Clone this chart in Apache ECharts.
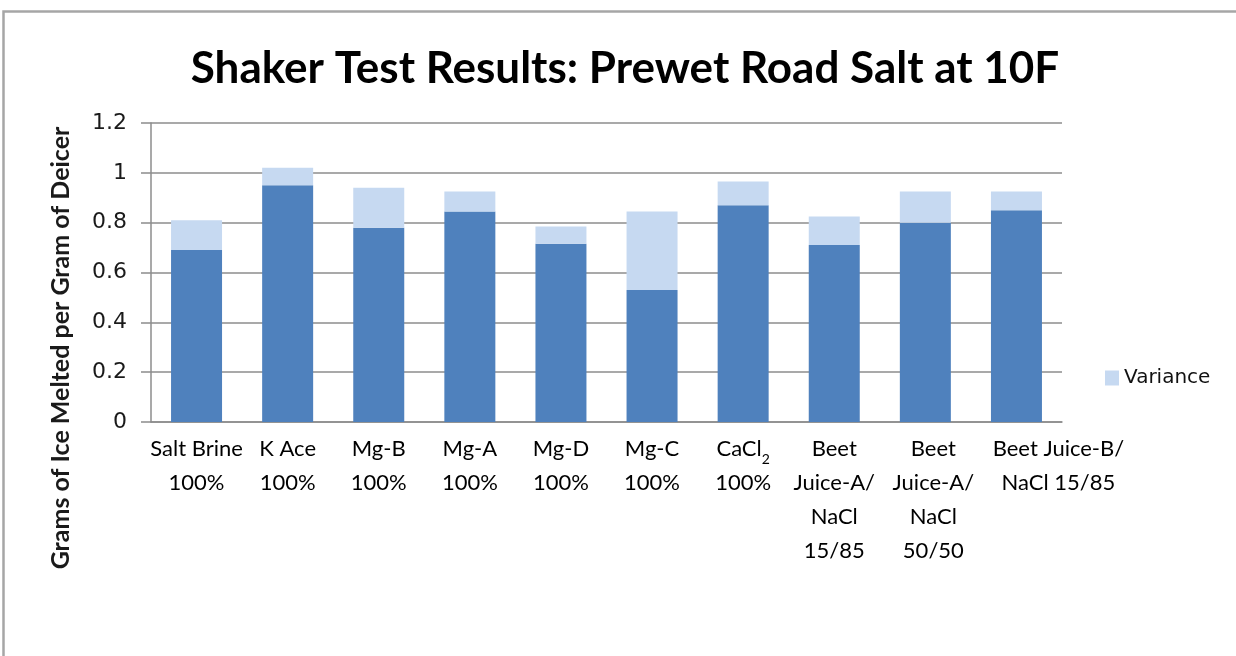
<!DOCTYPE html>
<html>
<head>
<meta charset="utf-8">
<title>Shaker Test Results</title>
<script src="https://cdn.jsdelivr.net/npm/echarts@6/dist/echarts.min.js"></script>
<style>
  html, body { margin: 0; padding: 0; background: #ffffff; }
  #chart { width: 1236px; height: 656px; }
</style>
</head>
<body>
<div id="chart"></div>
<script>
// Deicer products tested (x-axis categories, wrapped as shown under each bar)
const categories = [
  'Salt Brine\n100%',
  'K Ace\n100%',
  'Mg-B\n100%',
  'Mg-A\n100%',
  'Mg-D\n100%',
  'Mg-C\n100%',
  'CaCl₂\n100%',
  'Beet\nJuice-A/\nNaCl\n15/85',
  'Beet\nJuice-A/\nNaCl\n50/50',
  'Beet Juice-B/\nNaCl 15/85'
];

// Grams of ice melted per gram of deicer (lower, dark segment)
const meltedValues = [0.69, 0.95, 0.78, 0.845, 0.715, 0.53, 0.87, 0.71, 0.80, 0.85];

// Variance stacked on top (light segment)
const varianceValues = [0.12, 0.07, 0.16, 0.08, 0.07, 0.315, 0.095, 0.115, 0.125, 0.075];

// Value-axis range and step
const yMin = 0;
const yMax = 1.2;
const yStep = 0.2;

// Horizontal nudge (px) for wide wrapped labels so neighbours don't collide
const labelNudge = { 8: 16, 9: 84 };

const chart = echarts.init(document.getElementById('chart'), null, { renderer: 'canvas' });

const gridColor = '#8c8c8c';
const bodyFont = 'Lato, "Noto Sans", sans-serif';

const categoryData = categories.map(function (name, i) {
  if (labelNudge[i]) {
    return { value: name, textStyle: { padding: [0, 0, 0, labelNudge[i]] } };
  }
  return name;
});

chart.setOption({
  backgroundColor: '#ffffff',
  animation: false,
  title: {
    text: 'Shaker Test Results: Prewet Road Salt at 10F',
    left: 620,
    top: 42,
    textAlign: 'center',
    textStyle: {
      fontFamily: bodyFont,
      fontWeight: 'bold',
      fontSize: 44,
      color: '#000000'
    }
  },
  legend: {
    data: ['Variance'],
    left: 1105,
    top: 368,
    padding: 0,
    itemWidth: 14,
    itemHeight: 15,
    icon: 'rect',
    textStyle: {
      fontFamily: '"DejaVu Sans", sans-serif',
      fontSize: 20,
      color: '#111111'
    }
  },
  grid: {
    left: 151,
    right: 174,
    top: 123,
    bottom: 234,
    containLabel: false
  },
  xAxis: {
    type: 'category',
    data: categoryData,
    axisLine: { show: true, lineStyle: { color: gridColor, width: 1.5 } },
    axisTick: { show: false },
    axisLabel: {
      interval: 0,
      margin: 10,
      fontFamily: bodyFont,
      fontSize: 22,
      lineHeight: 34,
      color: '#000000',
      formatter: function (v) { return v.replace('₂', '{sub|2}'); },
      rich: {
        sub: {
          fontFamily: bodyFont,
          fontSize: 14,
          lineHeight: 27,
          verticalAlign: 'bottom',
          color: '#000000'
        }
      }
    }
  },
  yAxis: {
    type: 'value',
    min: yMin,
    max: yMax,
    interval: yStep,
    axisLine: { show: true, lineStyle: { color: gridColor, width: 1.5 } },
    axisTick: { show: true, length: 10, lineStyle: { color: gridColor, width: 1.5 } },
    splitLine: { show: true, lineStyle: { color: gridColor, width: 1.5 } },
    axisLabel: {
      margin: 24,
      fontFamily: '"DejaVu Sans", sans-serif',
      fontSize: 22,
      color: '#1a1a1a',
      formatter: function (v) { return String(Math.round(v * 10) / 10); }
    }
  },
  series: [
    {
      name: 'Melted',
      type: 'bar',
      stack: 'total',
      data: meltedValues,
      barWidth: 51,
      itemStyle: { color: '#4f81bd' }
    },
    {
      name: 'Variance',
      type: 'bar',
      stack: 'total',
      data: varianceValues,
      barWidth: 51,
      itemStyle: { color: '#c6d9f1' }
    }
  ],
  graphic: [
    {
      // chart area frame
      type: 'rect',
      silent: true,
      shape: { x: 3.5, y: 11.5, width: 1400, height: 800 },
      style: { fill: 'none', stroke: '#a6a6a6', lineWidth: 2.5 }
    },
    {
      type: 'text',
      silent: true,
      x: 61,
      y: 348,
      rotation: Math.PI / 2,
      style: {
        text: 'Grams of Ice Melted per Gram of Deicer',
        fontFamily: bodyFont,
        fontWeight: 'bold',
        fontSize: 25,
        fill: '#1a1a1a',
        align: 'center',
        verticalAlign: 'middle'
      }
    }
  ]
});
</script>
</body>
</html>
